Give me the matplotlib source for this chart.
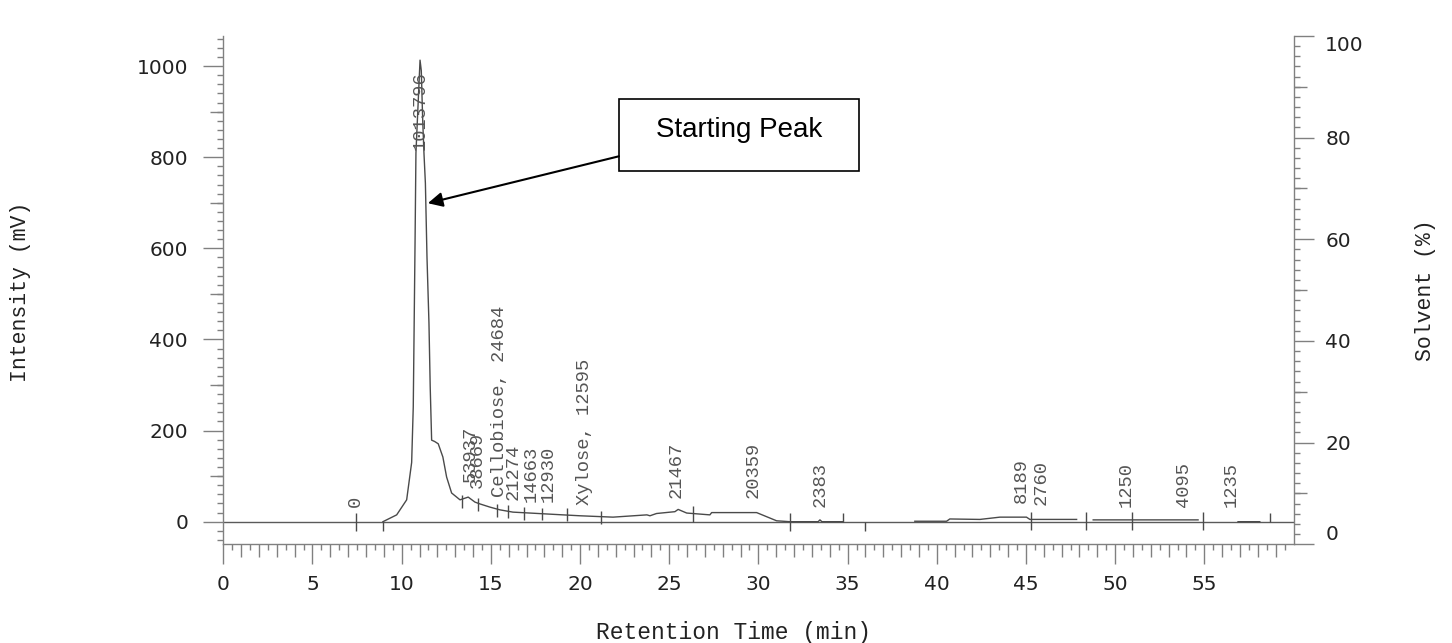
import numpy as np
import matplotlib
matplotlib.use("Agg")
import matplotlib.pyplot as plt
import matplotlib.lines as mlines
import matplotlib.transforms as mtransforms
from matplotlib.patches import Rectangle

# ---------------- data ----------------
nan = np.nan
trace_time = [8.95, 9.72, 10.28, 10.56, 10.65, 10.75, 10.80, 10.97, 11.03, 11.10,
              11.18, 11.25, 11.33, 11.42, 11.53, 11.60, 11.68, 11.85, 12.05, 12.31,
              12.52, 12.80, 13.27, 13.73, 14.11, 14.39, 14.95, 15.51, 16.24, 17.19,
              19.04, 20.00, 21.85, 23.75, 23.92, 24.29, 25.32, 25.50, 25.98, 27.28,
              27.38, 29.90, 30.46, 31.02, 31.77, 33.35, 33.45, 33.56, 34.74, nan,
              38.77, 40.55, 40.73, 42.42, 43.54, 45.03, 45.22, 47.84, nan,
              48.77, 54.65, nan, 56.89, 58.11]
trace_mv = [0, 15, 48, 130, 252, 612, 809, 960, 1013, 990,
            880, 809, 743, 580, 436, 296, 179, 176, 171, 142,
            98, 63, 48, 54, 43, 39, 32, 26, 21, 19,
            15, 13, 10, 15, 13, 18, 22, 27, 19, 15,
            20, 20, 11, 2, 0, 0, 4, 0, 0, nan,
            1, 1, 6, 5, 10, 10, 5, 5, nan,
            4, 4, nan, 0, 0]

peak_label_time = [7.38, 11.03, 13.83, 14.24, 15.51, 16.25, 17.29, 18.22, 20.27,
                   25.41, 29.71, 33.45, 44.75, 45.87, 50.64, 53.81, 56.52]
peak_label_mv = [32, 815, 87, 74, 54, 48, 44, 44, 37,
                 52, 52, 33, 41, 37, 33, 33, 33]
peak_labels = ["0", "1013796", "53937", "38669", "Cellobiose, 24684", "21274",
               "14663", "12930", "Xylose, 12595", "21467", "20359", "2383",
               "8189", "2760", "1250", "4095", "1235"]

marker_time = [7.45, 8.97, 13.36, 14.28, 15.33, 15.98, 16.86, 17.85, 19.25, 21.15,
               26.35, 31.77, 34.76, 35.97, 45.31, 48.36, 50.97, 54.90, 58.67]
marker_low = [-20, -20, 31, 24, 11, 8, 4, 3, 1, -4,
              -1, -20, 0, -20, -19, -19, -19, -19, 0]
marker_high = [20, 0, 59, 52, 39, 36, 32, 31, 29, 24,
               35, 20, 20, 0, 22, 22, 22, 22, 20]

x_major = list(range(0, 56, 5))
x_medium = [v for v in range(1, 60) if v % 5 != 0]
x_minor = [v + 0.5 for v in range(0, 60)]
y_major = [0, 200, 400, 600, 800, 1000]
y_medium = [100, 300, 500, 700, 900]
y_minor = list(range(-40, 1061, 20))
solvent_major = [0, 20, 40, 60, 80, 100]
solvent_medium = [10, 30, 50, 70, 90]
solvent_minor = list(range(0, 101, 2))

x_limits = (0, 60)
y_limits = (-49.6, 1066)
solvent_limits = (0, 100)

callout_text = "Starting Peak"
callout_box = (22.18, 770, 35.65, 927)
callout_text_baseline = 845
arrow_tail = (22.18, 802)
arrow_head = (11.47, 699)

# ---------------- styling ----------------
AX_COL = "#808080"
TRACE_COL = "#4a4a4a"
TXT_COL = "#222222"
LBL_COL = "#555555"
MONO = "Liberation Mono"

fig = plt.figure(figsize=(14.52, 6.43), dpi=100)
W, H = 1452, 643
x0p, x1p, y0p, y1p = 223.3, 1293.5, 544.3, 36
ax = fig.add_axes([x0p / W, 1 - y0p / H, (x1p - x0p) / W, (y0p - y1p) / H])
ax.set_xlim(*x_limits)
ax.set_ylim(*y_limits)

ax.axhline(0, color="#5a5a5a", lw=1.0, zorder=1)
ax.plot(trace_time, trace_mv, color=TRACE_COL, lw=1.0, zorder=2)
ax.vlines(marker_time, marker_low, marker_high, color=TRACE_COL, lw=1.0, zorder=2)

for t, y, s in zip(peak_label_time, peak_label_mv, peak_labels):
    ax.text(t, y, s, rotation=90, ha="center", va="bottom", family=MONO,
            fontsize=13.5, color=LBL_COL, zorder=3)

for side in ["top", "right"]:
    ax.spines[side].set_visible(False)
for side in ["left", "bottom"]:
    ax.spines[side].set_color(AX_COL)
    ax.spines[side].set_linewidth(1.0)

ax.set_xticks(x_major)
ax.set_xticks(x_minor, minor=True)
ax.set_yticks(y_major)
ax.set_yticks(y_minor, minor=True)
ax.tick_params(which="major", direction="out", length=14.4, width=1.0, color=AX_COL,
               labelsize=14.5, labelcolor=TXT_COL)
ax.tick_params(which="minor", direction="out", length=4.5, width=1.0, color=AX_COL)
ax.tick_params(axis="y", which="major", pad=11)
ax.tick_params(axis="x", which="major", pad=8)

ty = mtransforms.blended_transform_factory(ax.transAxes, ax.transData)
ax.plot([0] * len(y_medium), y_medium, ls="none", marker=mlines.TICKLEFT, ms=9.4,
        mew=1.0, color=AX_COL, transform=ty, clip_on=False)
tx = mtransforms.blended_transform_factory(ax.transData, ax.transAxes)
ax.plot(x_medium, [0] * len(x_medium), ls="none", marker=mlines.TICKDOWN, ms=9.0,
        mew=1.0, color=AX_COL, transform=tx, clip_on=False)

# right (solvent) axis
ax2 = ax.twinx()
ax2.set_ylim(*solvent_limits)
for side in ["top", "left", "bottom"]:
    ax2.spines[side].set_visible(False)
ax2.spines["right"].set_color(AX_COL)
ax2.spines["right"].set_linewidth(1.0)
ax2.set_yticks(solvent_major)
ax2.set_yticklabels(["" if v in (solvent_limits[0], solvent_limits[1]) else str(v)
                     for v in solvent_major])
ax2.set_yticks(solvent_minor, minor=True)
ax2.tick_params(which="major", direction="out", length=14.4, width=1.0, color=AX_COL,
                labelsize=14.5, labelcolor=TXT_COL, pad=8.5)
ax2.tick_params(which="minor", direction="out", length=4.5, width=1.0, color=AX_COL)
ty2 = mtransforms.blended_transform_factory(ax2.transAxes, ax2.transData)
ax2.plot([1] * len(solvent_medium), solvent_medium, ls="none", marker=mlines.TICKRIGHT,
         ms=9.0, mew=1.0, color=AX_COL, transform=ty2, clip_on=False)
for v, va in [(solvent_limits[0], "bottom"), (solvent_limits[1], "top")]:
    ax2.annotate(str(v), xy=(1, v), xycoords=("axes fraction", "data"),
                 xytext=(14.4 + 8.5, 0), textcoords="offset points",
                 ha="left", va=va, fontsize=14.5, color=TXT_COL, annotation_clip=False)

# callout
bx0, by0, bx1, by1 = callout_box
ax.add_patch(Rectangle((bx0, by0), bx1 - bx0, by1 - by0, facecolor="white",
                       edgecolor="black", lw=1.2, zorder=5))
ax.text((bx0 + bx1) / 2, callout_text_baseline, callout_text, ha="center",
        va="baseline", family="Liberation Sans", fontsize=20, color="black", zorder=6)
ax.annotate("", xy=arrow_head, xytext=arrow_tail,
            arrowprops=dict(arrowstyle="-|>", color="black", lw=1.5,
                            mutation_scale=22, shrinkA=0, shrinkB=0), zorder=6)

# axis titles
fig.text(21 / W, 1 - 292 / H, "Intensity (mV)", rotation=90, ha="center", va="center",
         family=MONO, fontsize=15.5, color=TXT_COL)
fig.text(1426 / W, 1 - 290 / H, "Solvent (%)", rotation=90, ha="center", va="center",
         family=MONO, fontsize=15.5, color=TXT_COL)
fig.text(733 / W, 1 - 633 / H, "Retention Time (min)", ha="center", va="center",
         family=MONO, fontsize=16.5, color=TXT_COL)

fig.savefig("out.png", dpi=100)
